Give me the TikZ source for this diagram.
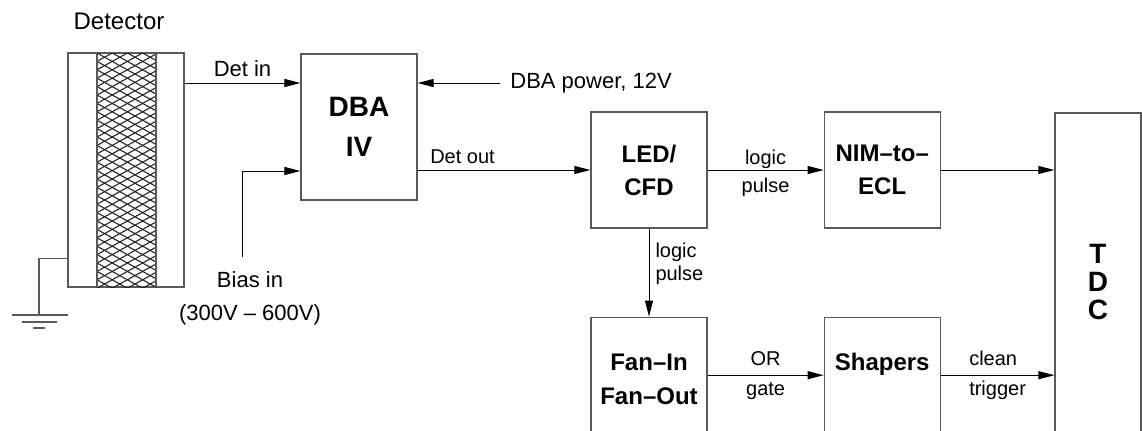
\documentclass[tikz,border=0pt]{standalone}
\usepackage{fontspec}
\setmainfont{Liberation Sans}
\usetikzlibrary{positioning, arrows.meta}

\begin{document}
\begin{tikzpicture}[
    x=0.5pt, y=-0.5pt,
    box/.style={rectangle, draw=black!65, line width=0.6pt, minimum width=58pt, minimum height=58pt, inner sep=0pt, align=center, font=\fontsize{12}{16.5}\selectfont\bfseries},
    arrow/.style={-{Triangle[length=8pt, width=4pt]}, line width=0.5pt, black},
    wire/.style={line width=0.6pt, black!65},
    mesh/.style={line width=0.55pt, black!85},
    lbl/.style={font=\fontsize{11}{16.5}\selectfont, inner sep=1pt},
    sublbl/.style={font=\fontsize{10}{15}\selectfont, inner sep=1pt, align=center},
]
\useasboundingbox (0,0) rectangle (1142,430);
\clip (0,0) rectangle (1142,430);

% === DETECTOR ===
\node[rectangle, draw=black!65, line width=0.6pt, minimum width=58pt, minimum height=117pt, inner sep=0pt] (det) at (126,170) {};
\node[lbl, above=10pt of det, xshift=-3.5pt, font=\fontsize{12}{14}\selectfont] (detlbl) {Detector};
\begin{scope}
  \clip (97,53) rectangle (156,287);
  \foreach \k in {-5,...,33} {
    \draw[mesh] (97,53+\k*8.4) -- ++(59,32.6);
    \draw[mesh] (97,53+\k*8.4) -- ++(59,-32.6);
  }
\end{scope}
\draw[wire] (97,53) -- (97,287) (156,53) -- (156,287);

% ground
\coordinate (gndtap) at ([yshift=14.5pt]det.south west);
\coordinate (gnd) at (39,315);
\draw[wire] (gndtap) -| (gnd);
\draw[wire] (gnd) ++(-27,0) -- ++(56,0);
\draw[wire] (gnd) ++(-17,7) -- ++(35,0);
\draw[wire] (gnd) ++(-6,13) -- ++(12,0);

% === BLOCKS ===
\node[box, minimum height=73pt, font=\fontsize{14}{20}\selectfont\bfseries] (dba) at (359,127) {DBA\\IV};
\node[box] (led) at (649,170) {LED/\\CFD};
\node[box, right=58pt of led] (nim) {NIM–to–\\ECL};
\node[box, below=44pt of led, minimum height=62pt, font=\fontsize{12}{17}\selectfont\bfseries] (fan) {Fan–In\\Fan–Out};
\node[box, right=58pt of fan, minimum height=62pt, font=\fontsize{12}{17}\selectfont\bfseries] (shapers) {Shapers\\~};
\node[box, minimum width=43pt, minimum height=168.5pt, font=\fontsize{14}{14}\selectfont\bfseries] (tdc) at (1098,281.5) {T\\D\\C};

% === INPUTS ===
\coordinate (bias) at (242,257);
\coordinate (pwr) at (500,83);
\draw[arrow] ([yshift=22pt]dba.west -| det.east) -- ([yshift=22pt]dba.west) node[midway, above=2pt, lbl] {Det in};
\draw[arrow] (bias) |- ([yshift=-22pt]dba.west);
\node[lbl, below=6pt of bias, xshift=4pt, align=center] (biaslbl) {Bias in\\(300V – 600V)};
\draw[arrow] (pwr) -- (pwr -| dba.east);
\node[lbl, right=4pt of pwr] (pwrlbl) {DBA power, 12V};

% === SIGNAL CHAIN ===
\draw[arrow] (dba.east |- led.west) -- (led.west) node[pos=0.26, above=2pt, sublbl] {Det out};
\draw[arrow] (led) -- (nim) node[midway, yshift=-1.5pt, sublbl, font=\fontsize{10}{14}\selectfont] {logic\\pulse};
\draw[arrow] (nim) -- (nim -| tdc.west);
\draw[arrow] (led) -- (fan) node[pos=0.4, right=2pt, sublbl, align=left, font=\fontsize{10}{11.5}\selectfont] {logic\\pulse};
\draw[arrow] ([yshift=2pt]fan.east) -- ([yshift=2pt]shapers.west) node[midway, sublbl] {OR\\gate};
\draw[arrow] ([yshift=2pt]shapers.east) -- ([yshift=2pt]shapers.east -| tdc.west) node[midway, sublbl, align=left] {clean\\trigger};

\end{tikzpicture}
\end{document}
